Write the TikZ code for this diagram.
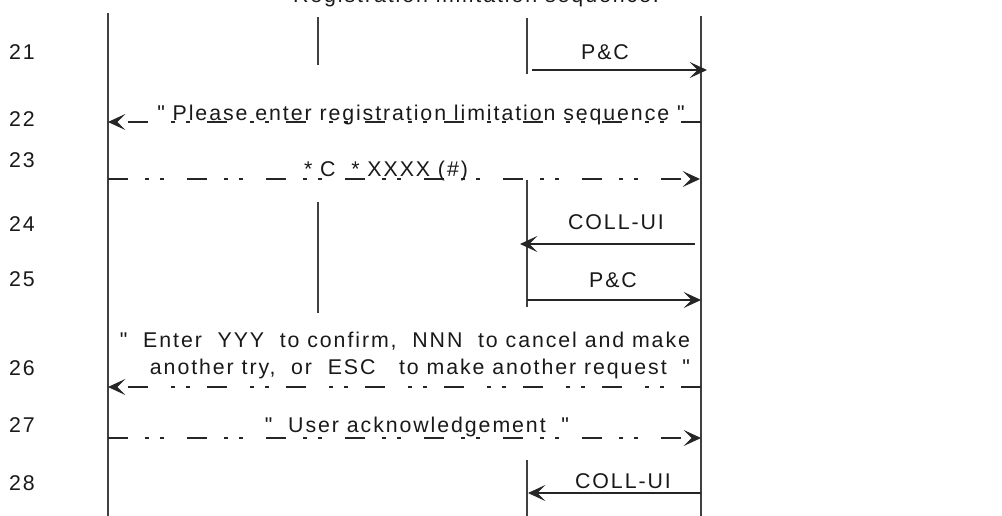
\documentclass[tikz,border=0pt]{standalone}
\usepackage{fontspec}
\setmainfont{Liberation Sans}[LetterSpace=9, Ligatures=TeXOff]
\usetikzlibrary{arrows.meta}
\begin{document}
\begin{tikzpicture}[x=0.75pt,y=-0.75pt,
  life/.style={draw=black!75, line width=0.8pt},
  msg/.style={draw=black!85, line width=0.8pt, -{Stealth[length=13pt,width=12pt,inset=6pt]}},
  dmsg/.style={msg, dash pattern=on 15pt off 12.75pt on 3pt off 8.25pt on 3pt off 17.25pt},
  lbl/.style={font=\fontsize{16}{19}\selectfont, text=black!90, inner sep=0pt, anchor=base},
  num/.style={lbl}]
\useasboundingbox (0,0) rectangle (1002,516);

% title
\node[lbl] (title) at (476,3) {Registration limitation sequence:};

% lifelines
\coordinate (A1) at (108,13);  \coordinate (A2) at (108,516);
\coordinate (B1) at (318,17);  \coordinate (B2) at (318,65);
\coordinate (B3) at (318,202); \coordinate (B4) at (318,313);
\coordinate (C1) at (527,18);  \coordinate (C2) at (527,74);
\coordinate (C3) at (527,180); \coordinate (C4) at (527,307);
\coordinate (C5) at (527,460); \coordinate (C6) at (527,516);
\coordinate (D1) at (701,16);  \coordinate (D2) at (701,516);
\draw[life] (A1) -- (A2);
\draw[life] (B1) -- (B2);
\draw[life] (B3) -- (B4);
\draw[life] (C1) -- (C2);
\draw[life] (C3) -- (C4);
\draw[life] (C5) -- (C6);
\draw[life] (D1) -- (D2);

% row numbers
\node[num] (n21) at (22,60)  {21};
\node[num] (n22) at (22,127) {22};
\node[num] (n23) at (22,168) {23};
\node[num] (n24) at (22,232) {24};
\node[num] (n25) at (22,287) {25};
\node[num] (n26) at (22,375) {26};
\node[num] (n27) at (22,432) {27};
\node[num] (n28) at (22,490) {28};

% 21
\coordinate (m21s) at (532,70); \coordinate (m21e) at (707,70);
\draw[msg] (m21s) -- (m21e);
\node[lbl] (t21) at (605,60) {P\&C};

% 22
\coordinate (m22s) at (701,122); \coordinate (m22e) at (108,122);
\draw[dmsg] (m22s) -- (m22e);
\node[lbl] (t22) at (421,121) {"\ Please enter registration limitation sequence\ "};

% 23
\coordinate (m23s) at (108,179); \coordinate (m23e) at (700,179);
\draw[dmsg] (m23s) -- (m23e);
\node[lbl] (t23) at (386,177) {* C\ \ *\ XXXX\ (\#)};

% 24
\coordinate (m24s) at (695,244); \coordinate (m24e) at (520,244);
\draw[msg] (m24s) -- (m24e);
\node[lbl] (t24) at (616,230) {COLL-UI};

% 25
\coordinate (m25s) at (527,300); \coordinate (m25e) at (701,300);
\draw[msg] (m25s) -- (m25e);
\node[lbl] (t25) at (613,288) {P\&C};

% 26
\coordinate (m26s) at (701,387); \coordinate (m26e) at (108,387);
\draw[dmsg] (m26s) -- (m26e);
\node[lbl] (t26a) at (405,347) {"\ \ Enter\ \ YYY\ \ to confirm,\ \ NNN\ \ to cancel and make};
\node[lbl] (t26b) at (420,374) {another try,\ \ or\ \ ESC\ \ \ to make another request\ \ "};

% 27
\coordinate (m27s) at (108,438); \coordinate (m27e) at (701,438);
\draw[dmsg] (m27s) -- (m27e);
\node[lbl] (t27) at (417,432) {"\ \ User acknowledgement\ \ "};

% 28
\coordinate (m28s) at (701,493); \coordinate (m28e) at (528,493);
\draw[msg] (m28s) -- (m28e);
\node[lbl] (t28) at (623,488) {COLL-UI};
\end{tikzpicture}
\end{document}
